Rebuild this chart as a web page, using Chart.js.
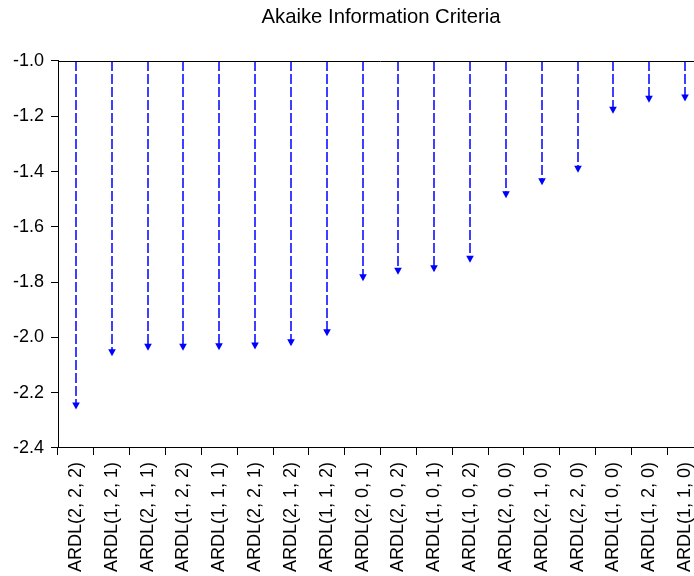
<!DOCTYPE html>
<html>
<head>
<meta charset="utf-8">
<script src="https://cdn.jsdelivr.net/npm/chart.js@4/dist/chart.umd.min.js"></script>
<style>
  html, body { margin: 0; padding: 0; background: #fff; overflow: hidden; }
  #wrap { position: relative; width: 762px; height: 576px; }
</style>
</head>
<body>
<div id="wrap"><canvas id="chart"></canvas></div>
<script>
// ARDL model specifications, ranked by Akaike Information Criterion
const models = [
  'ARDL(2, 2, 2)', 'ARDL(1, 2, 1)', 'ARDL(2, 1, 1)', 'ARDL(1, 2, 2)',
  'ARDL(1, 1, 1)', 'ARDL(2, 2, 1)', 'ARDL(2, 1, 2)', 'ARDL(1, 1, 2)',
  'ARDL(2, 0, 1)', 'ARDL(2, 0, 2)', 'ARDL(1, 0, 1)', 'ARDL(1, 0, 2)',
  'ARDL(2, 0, 0)', 'ARDL(2, 1, 0)', 'ARDL(2, 2, 0)', 'ARDL(1, 0, 0)',
  'ARDL(1, 2, 0)', 'ARDL(1, 1, 0)'
];

// AIC value of each model
const aicValues = [
  -2.261, -2.068, -2.048, -2.048, -2.046, -2.044, -2.032, -1.996,
  -1.797, -1.773, -1.764, -1.730, -1.497, -1.450, -1.404, -1.191,
  -1.151, -1.147
];

// Value axis ticks
const yTicks = [-1.0, -1.2, -1.4, -1.6, -1.8, -2.0, -2.2, -2.4];
const yTop = -1.0;
const yBottom = -2.4;

const FONT = 'Liberation Sans, Arial, sans-serif';

// Draws each value as a dashed drop line from the top of the axis ending in an arrowhead
const dropArrows = {
  id: 'dropArrows',
  afterDatasetsDraw(chart) {
    const ctx = chart.ctx;
    const yScale = chart.scales.y;
    const top = yScale.getPixelForValue(yTop);
    const meta = chart.getDatasetMeta(0);
    const head = 7, half = 3.8;
    ctx.save();
    ctx.strokeStyle = '#0000ff';
    ctx.fillStyle = '#0000ff';
    ctx.lineWidth = 1.5;
    meta.data.forEach(pt => {
      const x = Math.round(pt.x);
      const y = pt.y;
      ctx.setLineDash([10, 3]);
      ctx.beginPath();
      ctx.moveTo(x, top);
      ctx.lineTo(x, y - head + 1);
      ctx.stroke();
      ctx.setLineDash([]);
      ctx.beginPath();
      ctx.moveTo(x, y);
      ctx.lineTo(x - half, y - head);
      ctx.lineTo(x + half, y - head);
      ctx.closePath();
      ctx.fill();
    });
    ctx.restore();
  }
};

// Top border of the plot frame
const frameTop = {
  id: 'frameTop',
  afterDraw(chart) {
    const { ctx, chartArea } = chart;
    ctx.save();
    ctx.strokeStyle = '#000';
    ctx.lineWidth = 1;
    ctx.beginPath();
    ctx.moveTo(chartArea.left, Math.round(chartArea.top) + 0.5);
    ctx.lineTo(chartArea.right, Math.round(chartArea.top) + 0.5);
    ctx.stroke();
    ctx.restore();
  }
};

new Chart(document.getElementById('chart'), {
  type: 'line',
  data: {
    labels: models,
    datasets: [{
      label: 'AIC',
      data: aicValues,
      showLine: false,
      pointRadius: 0,
      pointHoverRadius: 0
    }]
  },
  options: {
    responsive: true,
    maintainAspectRatio: false,
    animation: false,
    events: [],
    layout: { padding: 0 },
    plugins: {
      legend: { display: false },
      tooltip: { enabled: false },
      title: {
        display: true,
        text: 'Akaike Information Criteria',
        color: '#000',
        font: { family: FONT, size: 20.3, weight: 'normal', lineHeight: 1.2 },
        padding: { top: 5, bottom: 31.6 }
      }
    },
    scales: {
      x: {
        type: 'category',
        offset: true,
        grid: {
          display: true,
          offset: true,
          drawOnChartArea: false,
          drawTicks: true,
          tickLength: 7,
          color: '#000',
          lineWidth: 1
        },
        border: { display: true, color: '#000', width: 1 },
        ticks: {
          autoSkip: false,
          minRotation: 90,
          maxRotation: 90,
          padding: 7,
          color: '#000',
          font: { family: FONT, size: 18 }
        },
        afterFit(scale) { scale.height = 128; }
      },
      y: {
        type: 'linear',
        min: yBottom,
        max: yTop,
        grid: {
          display: true,
          drawOnChartArea: false,
          drawTicks: true,
          tickLength: 7,
          color: '#000',
          lineWidth: 1
        },
        border: { display: true, color: '#000', width: 1 },
        ticks: {
          padding: 7,
          color: '#000',
          font: { family: FONT, size: 18 },
          callback: v => Number(v).toFixed(1)
        },
        afterBuildTicks(scale) { scale.ticks = yTicks.map(v => ({ value: v })); },
        afterFit(scale) { scale.width = 58; }
      },
      // empty right-hand margin so the frame runs past the visible edge
      yRight: {
        type: 'linear',
        position: 'right',
        display: true,
        grid: { display: false },
        border: { display: false },
        ticks: { display: false },
        afterFit(scale) { scale.width = 59; }
      }
    }
  },
  plugins: [dropArrows, frameTop]
});
</script>
</body>
</html>
